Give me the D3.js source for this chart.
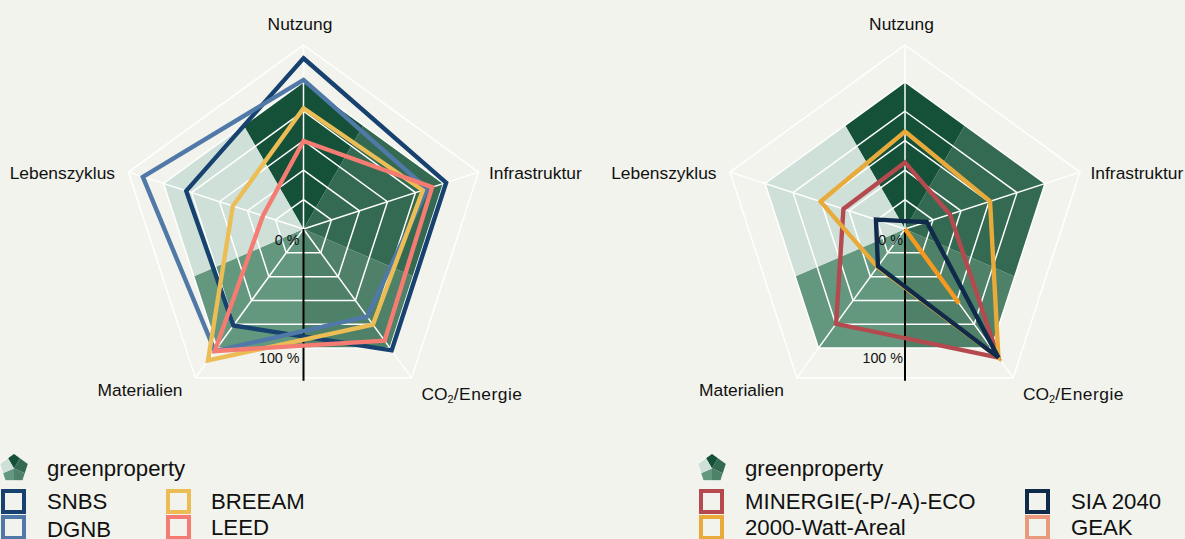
<!DOCTYPE html>
<html>
<head>
<meta charset="utf-8">
<script src="https://cdn.jsdelivr.net/npm/d3@7"></script>
<style>
html, body { margin: 0; padding: 0; background: #f2f3ec; overflow: hidden; }
svg { display: block; }
text { font-family: "Liberation Sans", Arial, sans-serif; fill: #111; }
</style>
</head>
<body>
<svg id="chart" width="1185" height="539"></svg>
<script>
// categories, clockwise from the top
var categories = ["Nutzung", "Infrastruktur", "CO2/Energie", "Materialien", "Lebenszyklus"];
var ringTicks = [16, 32, 48, 64, 80, 100];

// greenproperty, drawn as filled sectors cut by its pentagon
var greenproperty = [80, 80, 80, 80, 80];
var sectorWeights = [60, 83.4, 66.6, 66.6, 83.4];
var sectorColors = ["#145138", "#346a52", "#4e8167", "#63987f", "#cfe0d9"];

// left chart
var snbs = [92.8, 81.5, 81.5, 64.8, 67];
var dgnb = [81, 70.7, 58.8, 82, 91.8];
var breeam = [65.6, 68.2, 64.2, 88.3, 40.4];
var leed = [47.8, 73.5, 75, 82, 23.2];

// right chart
var minergie = [36.2, 25.7, 86.4, 63.7, 35.2];
var watt2000 = [53, 48.6, 86.4, 25.5, 48.2];
var sia2040 = [4.3, 12.4, 86.4, 25, 16.6];
var geak = [0, 0, 50, 0, 0];

var leftSeries = [
	{name: "SNBS", values: snbs, color: "#17426f", col: 0, row: 0},
	{name: "DGNB", values: dgnb, color: "#5079a8", col: 0, row: 1, textDy: 2},
	{name: "BREEAM", values: breeam, color: "#ecbd55", col: 1, row: 0},
	{name: "LEED", values: leed, color: "#f47c72", col: 1, row: 1}
];
var rightSeries = [
	{name: "MINERGIE(-P/-A)-ECO", values: minergie, color: "#b54a4e", col: 0, row: 0},
	{name: "2000-Watt-Areal", values: watt2000, color: "#e8ab3b", col: 0, row: 1},
	{name: "GEAK", values: geak, color: "#f5991f", legendColor: "#e99a7c", col: 1, row: 1},
	{name: "SIA 2040", values: sia2040, color: "#0f2a4a", col: 1, row: 0}
];

var svg = d3.select("#chart");
var defs = svg.append("defs");
var outerR = 184;
var clipCount = 0;

var angle = d3.scaleBand().domain(categories).range([0, 2 * Math.PI]).align(0);
var radius = d3.scaleLinear().domain([0, 100]).range([0, outerR]);

function radial(r) {
	return d3.lineRadial()
		.angle(function(d, i) { return angle(categories[i]); })
		.radius(function(d) { return r(d); })
		.curve(d3.curveLinearClosed);
}

var pie = d3.pie().sort(null)
	.startAngle(-30 * Math.PI / 180)
	.endAngle(330 * Math.PI / 180);

// pie slices cut to the greenproperty pentagon
function drawSectors(g, r) {
	var id = "clip" + (clipCount++);
	defs.append("clipPath").attr("id", id).append("path").attr("d", radial(r)(greenproperty));
	var arc = d3.arc().innerRadius(0).outerRadius(r(100));
	return g.append("g").attr("clip-path", "url(#" + id + ")")
		.selectAll("path").data(pie(sectorWeights)).enter().append("path")
		.attr("d", arc)
		.attr("fill", function(d, i) { return sectorColors[i]; });
}

function drawRadar(cx, cy, series, tickX) {
	var g = svg.append("g").attr("transform", "translate(" + cx + "," + cy + ")");

	drawSectors(g, radius);

	g.selectAll(".ring").data(ringTicks).enter().append("path")
		.attr("class", "ring")
		.attr("d", function(t) { return radial(radius)(categories.map(function() { return t; })); })
		.attr("fill", "none").attr("stroke", "#fff").attr("stroke-width", 1.5);

	g.selectAll(".spoke").data(categories).enter().append("path")
		.attr("class", "spoke")
		.attr("d", function(c) { return d3.lineRadial()([[0, 0], [angle(c), radius(100)]]); })
		.attr("stroke", "#fff").attr("stroke-width", 1.5);

	g.append("line").attr("y1", 0).attr("y2", radius(82.5))
		.attr("stroke", "#000").attr("stroke-width", 2);

	g.append("text").attr("x", tickX).attr("y", 16).attr("text-anchor", "end")
		.attr("font-size", 14.3).text("0 %");
	g.append("text").attr("x", tickX).attr("y", 134).attr("text-anchor", "end")
		.attr("font-size", 14.3).text("100 %");

	g.selectAll(".serie").data(series).enter().append("path")
		.attr("class", "serie")
		.attr("d", function(s) { return radial(radius)(s.values); })
		.attr("fill", "none")
		.attr("stroke", function(s) { return s.color; })
		.attr("stroke-width", 4.4)
		.attr("stroke-linejoin", "miter");

	// axis labels
	var labels = [
		{x: -3.5, y: -199.5, anchor: "middle"},
		{x: 185.5, y: -50.5, anchor: "start"},
		{x: 118, y: 170.5, anchor: "start"},
		{x: -163.5, y: 166.5, anchor: "middle"},
		{x: -188.5, y: -50.5, anchor: "end"}
	];
	categories.forEach(function(c, i) {
		var t = g.append("text")
			.attr("x", labels[i].x).attr("y", labels[i].y)
			.attr("text-anchor", labels[i].anchor)
			.attr("font-size", 17.4);
		if (c == "CO2/Energie") {
			t.append("tspan").text("CO");
			t.append("tspan").attr("font-size", 11).attr("dy", 3).text("2");
			t.append("tspan").attr("dy", -3).attr("letter-spacing", 0.5).text("/Energie");
		} else {
			t.text(c);
		}
	});
}

function drawLegend(x0, col2, series) {
	var iconR = d3.scaleLinear().domain([0, 80]).range([0, 15]);
	var icon = svg.append("g").attr("transform", "translate(" + (x0 + 13) + ",468.5)");
	drawSectors(icon, iconR);
	icon.append("path").attr("d", radial(iconR)(greenproperty))
		.attr("fill", "none").attr("stroke", "#fff").attr("stroke-width", 0.8);

	svg.append("text").attr("x", x0 + 46).attr("y", 476)
		.attr("font-size", 22.2).text("greenproperty");

	var rowY = [489, 515];
	var baseY = [508.5, 535];
	var colX = [x0, col2];
	series.forEach(function(s) {
		var x = colX[s.col];
		svg.append("rect")
			.attr("x", x + 2).attr("y", rowY[s.row] + 2)
			.attr("width", 21).attr("height", 21)
			.attr("fill", "none")
			.attr("stroke", s.legendColor || s.color).attr("stroke-width", 4);
		svg.append("text").attr("x", x + (s.col == 1 && x < 500 ? 45 : 46)).attr("y", baseY[s.row] + (s.textDy || 0))
			.attr("font-size", 22.2).text(s.name);
	});
}

drawRadar(303.5, 229, leftSeries, -4);
drawRadar(905, 229, rightSeries, -2);
drawLegend(1, 166, leftSeries);
drawLegend(699, 1025, rightSeries);
</script>
</body>
</html>
